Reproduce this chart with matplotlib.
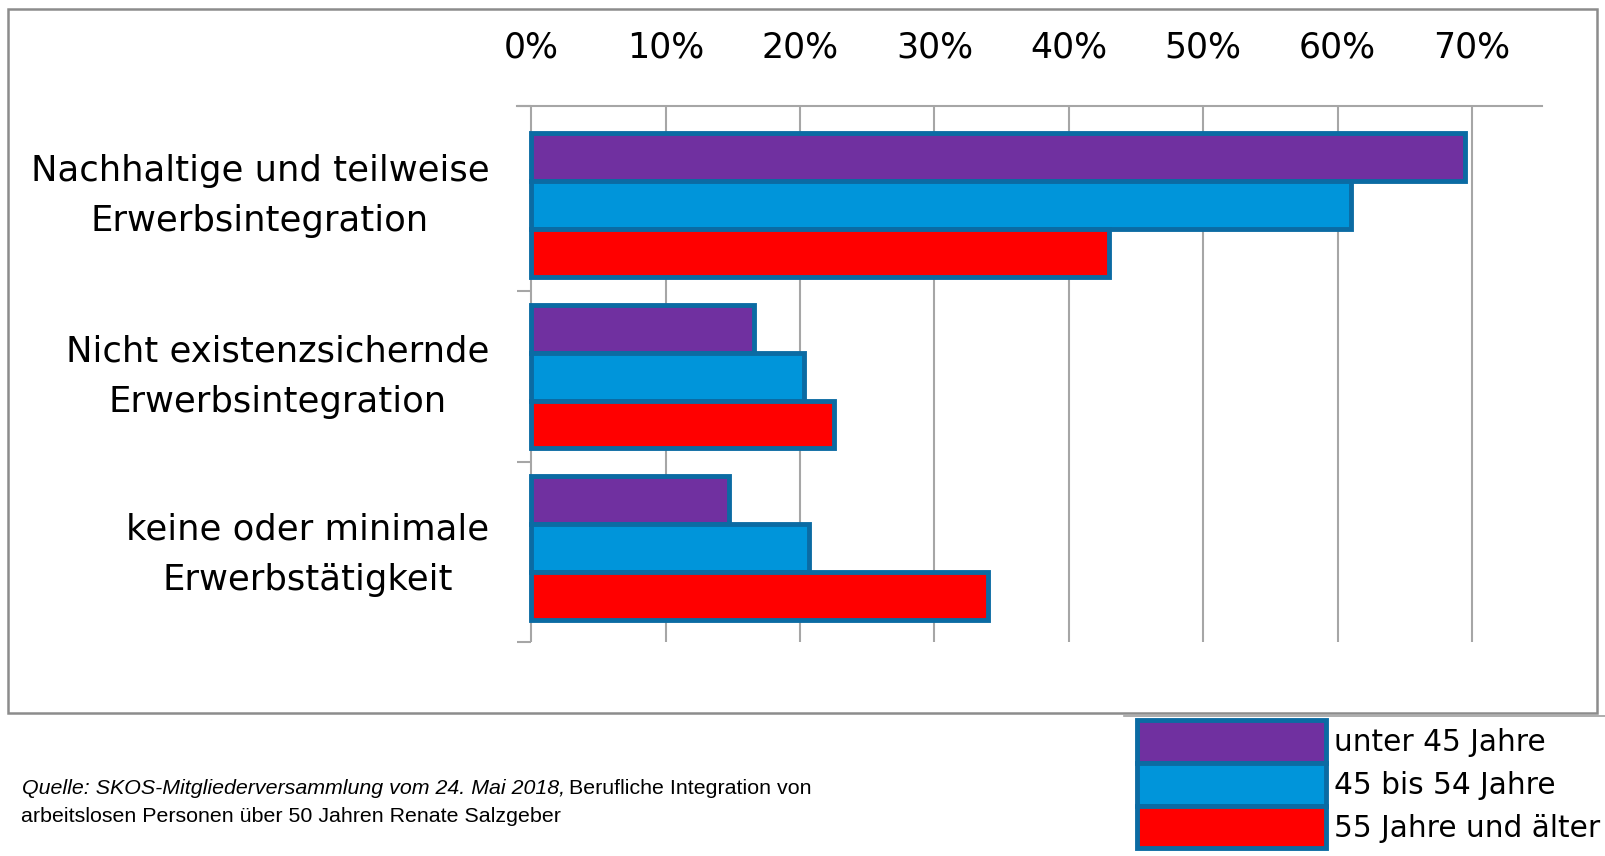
import numpy as np
import matplotlib
matplotlib.use("Agg")
import matplotlib.pyplot as plt
from matplotlib.patches import Patch, Rectangle
from matplotlib.lines import Line2D

# Data (percent)
categories = ["Nachhaltige und teilweise\nErwerbsintegration",
              "Nicht existenzsichernde\nErwerbsintegration",
              "keine oder minimale\nErwerbstätigkeit"]
series_names = ["unter 45 Jahre", "45 bis 54 Jahre", "55 Jahre und älter"]
unter_45 = [69.5, 16.6, 14.7]
von_45_bis_54 = [61.0, 20.3, 20.7]
ab_55 = [43.0, 22.5, 34.0]
x_ticks = [0, 10, 20, 30, 40, 50, 60, 70]

colors = ["#7030A0", "#0095DA", "#FF0000"]
edge = "#0B6BA3"
grid_grey = "#A6A6A6"

W, H = 1605, 856
fig = plt.figure(figsize=(W / 100, H / 100), dpi=100)
ax = fig.add_axes([517 / W, 1 - 642 / H, (1542 - 517) / W, (642 - 106) / H])

# bars
y = np.arange(len(categories))
h = 0.28
for k, vals in enumerate([unter_45, von_45_bis_54, ab_55]):
    ax.barh(y + (k - 1) * h, vals, height=h, color=colors[k],
            edgecolor=edge, linewidth=3.5, zorder=3)

ax.set_xlim(-1.05, 75.2)
ax.set_ylim(2.55, -0.58)

# x axis on top
ax.xaxis.tick_top()
ax.set_xticks(x_ticks)
ax.set_xticklabels([f"{v}%" for v in x_ticks], fontsize=25, family="DejaVu Sans")
ax.tick_params(axis="x", length=0, pad=30)
ax.set_axisbelow(True)
ax.grid(axis="x", color=grid_grey, linewidth=1.5)

# category labels (drawn as text so each can sit where the original has it)
ax.set_yticks([])
ax.set_yticks([-0.58, 0.5, 1.5, 2.55], minor=True)
ax.tick_params(axis="y", which="minor", direction="in", length=10,
               color=grid_grey, width=1.5)
label_lift = [7, 0, -5]  # points
for yi, txt, dy in zip(y, categories, label_lift):
    ax.annotate(txt, xy=(0, yi), xycoords=ax.get_yaxis_transform(),
                xytext=(-20, dy), textcoords="offset points",
                ha="right", va="center", multialignment="center",
                linespacing=1.6, fontsize=25.5, family="DejaVu Sans")

for s in ["left", "right", "bottom"]:
    ax.spines[s].set_visible(False)
ax.spines["top"].set_color(grid_grey)
ax.spines["top"].set_linewidth(1.5)

# outer frame
fig.patches.append(Rectangle((8 / W, 1 - 713 / H), (1597 - 8) / W, (713 - 9) / H,
                             transform=fig.transFigure, fill=False,
                             edgecolor="#8C8C8C", linewidth=1.8))
fig.lines.append(Line2D([1124 / W, 1], [1 - 716 / H, 1 - 716 / H],
                        transform=fig.transFigure, color="#A0A0A0", linewidth=1.2))

# legend
handles = [Patch(facecolor=c, edgecolor=edge, linewidth=3.5) for c in colors]
fig.legend(handles, series_names, loc="upper left",
           bbox_to_anchor=(1137 / W, 1 - 720 / H), frameon=False,
           prop={"family": "DejaVu Sans", "size": 21.3},
           handlelength=6.4, handleheight=1.85, labelspacing=0.0,
           handletextpad=0.25, borderpad=0, borderaxespad=0)

# source note
fig.canvas.draw()
renderer = fig.canvas.get_renderer()
t1 = fig.text(22 / W, 1 - 789 / H, "Quelle: SKOS-Mitgliederversammlung vom 24. Mai 2018,",
              fontsize=15.4, style="italic", family="Liberation Sans", va="center")
bb = t1.get_window_extent(renderer=renderer)
fig.text(bb.x1 / W + 4 / W, 1 - 789 / H, "Berufliche Integration von",
         fontsize=15.4, family="Liberation Sans", va="center")
fig.text(21 / W, 1 - 816 / H, "arbeitslosen Personen über 50 Jahren Renate Salzgeber",
         fontsize=15.4, family="Liberation Sans", va="center")

fig.savefig("out.png", dpi=100)
